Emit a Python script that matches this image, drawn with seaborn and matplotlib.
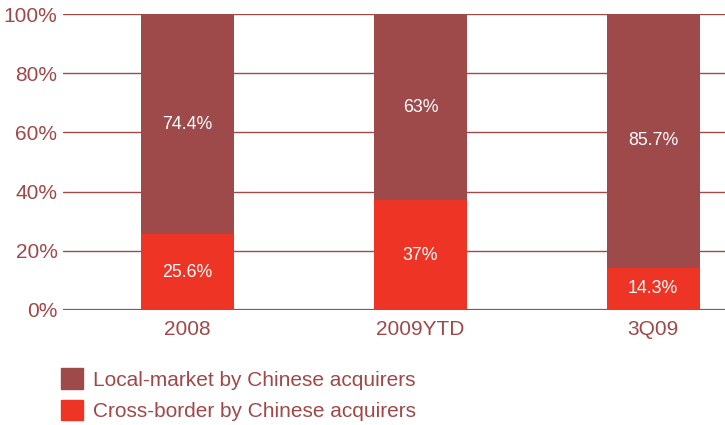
import matplotlib
matplotlib.use("Agg")
import matplotlib.pyplot as plt
import matplotlib.patches as mpatches
import seaborn as sns
import pandas as pd

periods = ["2008", "2009YTD", "3Q09"]
local_market = [74.4, 63.0, 85.7]
cross_border = [25.6, 37.0, 14.3]
local_labels = ["74.4%", "63%", "85.7%"]
cross_labels = ["25.6%", "37%", "14.3%"]
series_names = ["Local-market by Chinese acquirers", "Cross-border by Chinese acquirers"]
y_ticks = [0, 20, 40, 60, 80, 100]

DARK = "#9E4A4A"
RED = "#EE3424"
TEXT = "#A04848"

sns.set_theme(style="white")
plt.rcParams["font.family"] = ["Liberation Sans", "DejaVu Sans"]

df = pd.DataFrame({"period": periods, "local": local_market, "cross": cross_border})

fig = plt.figure(figsize=(7.25, 4.25), dpi=100)
ax = fig.add_axes([0.0869, 0.2706, 1 - 0.0869, 0.967 - 0.2706])

# horizontal gridlines behind the bars
for t in y_ticks:
    ax.axhline(t, color=DARK, lw=1.6 if t == 0 else 1.0, zorder=0)

sns.barplot(data=df, x="period", y="cross", color=RED, saturation=1,
            width=0.40, linewidth=0, ax=ax, zorder=2)
sns.barplot(data=df, x="period", y="local", bottom=df["cross"], color=DARK,
            saturation=1, width=0.40, linewidth=0, ax=ax, zorder=2)

for i, (c, l) in enumerate(zip(cross_border, local_market)):
    ax.text(i, c / 2, cross_labels[i], ha="center", va="center",
            color="white", fontsize=12.8, zorder=3)
    ax.text(i, c + l / 2, local_labels[i], ha="center", va="center",
            color="white", fontsize=12.8, zorder=3)

ax.set_xlim(-0.536, 2.309)
ax.set_ylim(0, 100)
ax.set_yticks(y_ticks)
ax.set_yticklabels([f"{t}%" for t in y_ticks])
ax.set_xlabel("")
ax.set_ylabel("")
ax.tick_params(axis="y", length=0, pad=4, labelsize=15, labelcolor=TEXT)
ax.tick_params(axis="x", length=0, pad=7, labelsize=15, labelcolor=TEXT)
for s in ax.spines.values():
    s.set_visible(False)

handles = [mpatches.Patch(color=DARK, label=series_names[0]),
           mpatches.Patch(color=RED, label=series_names[1])]
leg = fig.legend(handles=handles, loc="upper left",
                 bbox_to_anchor=(0.084, 0.133), frameon=False,
                 fontsize=15, handlelength=1.06, handleheight=1.12,
                 handletextpad=0.48, labelspacing=0.5, borderaxespad=0,
                 borderpad=0)
for t in leg.get_texts():
    t.set_color(TEXT)

fig.savefig("out.png", dpi=100, facecolor="white")
